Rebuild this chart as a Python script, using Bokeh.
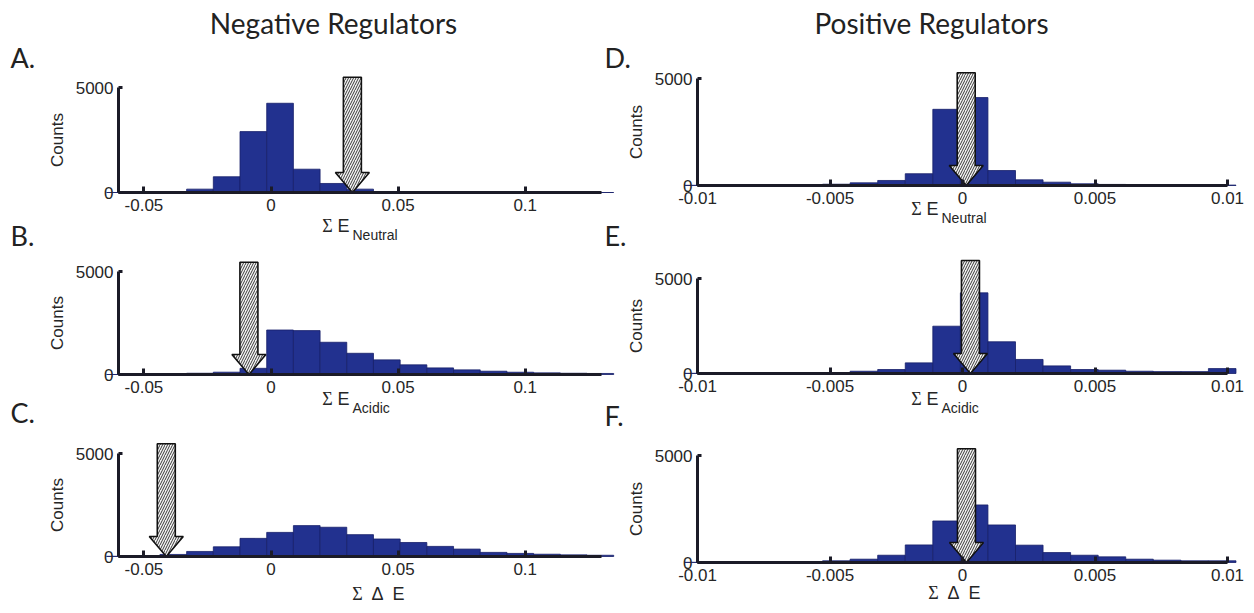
from bokeh.plotting import figure
from bokeh.models import Range1d, FixedTicker, LinearAxis
from bokeh.core.properties import value
from bokeh.embed import file_html
from bokeh.resources import INLINE

# ---------------- data ----------------
neg_edges = [-0.0647, -0.0542, -0.0437, -0.0332, -0.0227, -0.0122, -0.0017, 0.0088, 0.0193,
             0.0298, 0.0403, 0.0508, 0.0613, 0.0718, 0.0823, 0.0928, 0.1033, 0.1138, 0.1243, 0.1348]
neg_neutral = [0, 10, 20, 160, 750, 2900, 4250, 1110, 430, 160, 30, 10, 5, 0, 0, 0, 0, 0, 0]
neg_acidic = [0, 10, 40, 60, 113, 300, 2160, 2130, 1565, 1030, 710, 470, 320, 225, 160, 110, 80, 60, 50]
neg_delta = [10, 30, 100, 245, 470, 880, 1170, 1500, 1420, 1060, 850, 680, 490, 360, 200, 150, 110, 80, 60]

pos_edges = [-0.01048, -0.00944, -0.0084, -0.00736, -0.00632, -0.00528, -0.00424, -0.0032, -0.00216,
             -0.00112, -0.00008, 0.00096, 0.002, 0.00304, 0.00408, 0.00512, 0.00616, 0.0072, 0.00824,
             0.00928, 0.01032]
pos_neutral = [10, 15, 20, 25, 35, 60, 125, 235, 550, 3560, 4110, 700, 265, 155, 80, 50, 35, 30, 25, 20]
pos_acidic = [10, 15, 20, 25, 35, 50, 120, 210, 560, 2490, 4245, 1670, 740, 400, 210, 175, 120, 100, 100, 260]
pos_delta = [10, 15, 20, 30, 45, 80, 155, 340, 820, 1940, 2690, 1755, 810, 465, 340, 265, 155, 110, 80, 80]

neg_arrow_x = [0.032, -0.0087, -0.0412]
pos_arrow_x = [0.00014, 0.0003, 0.00015]

neg_xlim = [-0.06, 0.13]
pos_xlim = [-0.01, 0.01]
neg_xticks = [-0.05, 0, 0.05, 0.1]
neg_xtick_labels = ["-0.05", "0", "0.05", "0.1"]
pos_xticks = [-0.01, -0.005, 0, 0.005, 0.01]
pos_xtick_labels = ["-0.01", "-0.005", "0", "0.005", "0.01"]
yticks = [0, 5000]
ytick_labels = ["0", "5000"]

titles = ["Negative Regulators", "Positive Regulators"]
letters = ["A.", "B.", "C.", "D.", "E.", "F."]
xlabel_subs = ["Neutral", "Acidic"]

# ---------------- style / layout (pixels) ----------------
W, H = 1254, 613
BAR = "#22318f"
BAR_LINE = "#17206a"
AXIS = "#1b1b27"
TXT = "#262626"
SANS = "Liberation Sans"
SERIF = "Liberation Serif"
TFONT = "Lato"

# pixel x of left/right end of the x axis for the two columns
NEG_PX = (118, 601)
POS_PX = (697, 1227)
# per panel: pixel y of count 0, pixels per 5000 counts, pixel y of arrow top
PANELS = {
    "A": (192, 105, 76.7), "B": (374, 103, 261.7), "C": (556, 103, 443.3),
    "D": (185, 107, 72.3), "E": (373, 95, 260.0), "F": (562, 107, 448.3),
}

p = figure(width=W, height=H, x_range=Range1d(0, W), y_range=Range1d(H, 0),
           x_axis_type=None, y_axis_type=None, min_border=0,
           output_backend="svg", toolbar_location=None, title=None)
p.outline_line_color = None
p.background_fill_color = "white"
p.border_fill_color = "white"


def xrange_for(lim, px):
    ppu = (px[1] - px[0]) / (lim[1] - lim[0])
    start = lim[0] - px[0] / ppu
    return Range1d(start, start + W / ppu), 1.0 / ppu


nr, neg_upp = xrange_for(neg_xlim, NEG_PX)
pr, pos_upp = xrange_for(pos_xlim, POS_PX)
p.extra_x_ranges = {"neg": nr, "pos": pr}
yr = {}
for k, (y0, p5, _) in PANELS.items():
    cpp = 5000.0 / p5
    yr[k] = Range1d(-(H - y0) * cpp, y0 * cpp)
p.extra_y_ranges = yr


def style_axis(ax):
    ax.axis_line_width = 3
    ax.axis_line_color = AXIS
    ax.major_tick_line_width = 3
    ax.major_tick_line_color = AXIS
    ax.major_tick_out = 0
    ax.minor_tick_line_color = None
    ax.major_label_text_font = SANS
    ax.major_label_text_font_size = "17px"
    ax.major_label_text_color = TXT


def panel(key, xname, xlim, upp, edges, counts, arrow_x, xticks, xtick_labels):
    y0, p5, atop = PANELS[key]
    cpp = 5000.0 / p5
    p.quad(left=edges[:-1], right=edges[1:], bottom=0, top=counts,
           fill_color=BAR, line_color=BAR_LINE, line_width=0.8,
           x_range_name=xname, y_range_name=key)

    xa = LinearAxis(x_range_name=xname, y_range_name=key, fixed_location=0, bounds=tuple(xlim),
                    ticker=FixedTicker(ticks=xticks),
                    major_label_overrides=dict(zip(xticks, xtick_labels)))
    style_axis(xa)
    xa.major_tick_in = 6
    xa.major_label_standoff = 6
    p.add_layout(xa, "below")

    ya = LinearAxis(x_range_name=xname, y_range_name=key, fixed_location=xlim[0], bounds=(0, 5000),
                    ticker=FixedTicker(ticks=yticks),
                    major_label_overrides=dict(zip(yticks, ytick_labels)))
    style_axis(ya)
    ya.major_tick_in = 4
    ya.major_label_standoff = 5
    ya.axis_label = "Counts"
    ya.axis_label_text_font = SANS
    ya.axis_label_text_font_size = "17px"
    ya.axis_label_text_font_style = "normal"
    ya.axis_label_text_color = TXT
    ya.axis_label_standoff = 6
    p.add_layout(ya, "left")

    # hatched arrow pointing at the observed value
    hs, hh, yh = 9 * upp, 17 * upp, 20 * cpp
    ytop = (y0 - atop) * cpp
    xs = [arrow_x - hs, arrow_x + hs, arrow_x + hs, arrow_x + hh, arrow_x, arrow_x - hh, arrow_x - hs]
    ys = [ytop, ytop, yh, yh, 0, yh, yh]
    p.patch(xs, ys, fill_color="#f4f4f4", hatch_pattern="/", hatch_color="#3a3a3a",
            hatch_scale=5, hatch_weight=1.0, line_color="#111111", line_width=1.6,
            x_range_name=xname, y_range_name=key)


panel("A", "neg", neg_xlim, neg_upp, neg_edges, neg_neutral, neg_arrow_x[0], neg_xticks, neg_xtick_labels)
panel("B", "neg", neg_xlim, neg_upp, neg_edges, neg_acidic, neg_arrow_x[1], neg_xticks, neg_xtick_labels)
panel("C", "neg", neg_xlim, neg_upp, neg_edges, neg_delta, neg_arrow_x[2], neg_xticks, neg_xtick_labels)
panel("D", "pos", pos_xlim, pos_upp, pos_edges, pos_neutral, pos_arrow_x[0], pos_xticks, pos_xtick_labels)
panel("E", "pos", pos_xlim, pos_upp, pos_edges, pos_acidic, pos_arrow_x[1], pos_xticks, pos_xtick_labels)
panel("F", "pos", pos_xlim, pos_upp, pos_edges, pos_delta, pos_arrow_x[2], pos_xticks, pos_xtick_labels)


def txt(x, y, t, font=SANS, size="17px", align="left", color=TXT):
    p.text(x=[x], y=[y], text=[t], text_font=value(font), text_font_size=size,
           text_align=align, text_baseline="middle", text_color=color)


# column titles and panel letters
txt(333, 22, titles[0], font=TFONT, size="28px", align="center", color="#222222")
txt(931, 22, titles[1], font=TFONT, size="28px", align="center", color="#222222")
for (lx, ly), t in zip([(10, 57), (10, 235), (10, 412), (604, 57), (604, 235), (604, 415)], letters):
    txt(lx, ly, t, font=TFONT, size="27px", color="#222222")


def sub_label(cx, cy, sub):
    txt(cx, cy, "\u03a3", font=SERIF, size="18px", align="center")
    txt(cx + 10, cy, "E", size="18px")
    txt(cx + 25, cy + 9, sub, size="14px")


def delta_label(cx, cy):
    txt(cx, cy, "\u03a3", font=SERIF, size="18px", align="center")
    txt(cx + 20, cy, "\u0394", size="18px", align="center")
    txt(cx + 41, cy, "E", size="18px", align="center")


sub_label(327, 225, xlabel_subs[0])
sub_label(327, 398, xlabel_subs[1])
delta_label(357, 593)
sub_label(916, 208, xlabel_subs[0])
sub_label(916, 398, xlabel_subs[1])
delta_label(933, 592)

open("out.html", "w").write(file_html(p, INLINE))
